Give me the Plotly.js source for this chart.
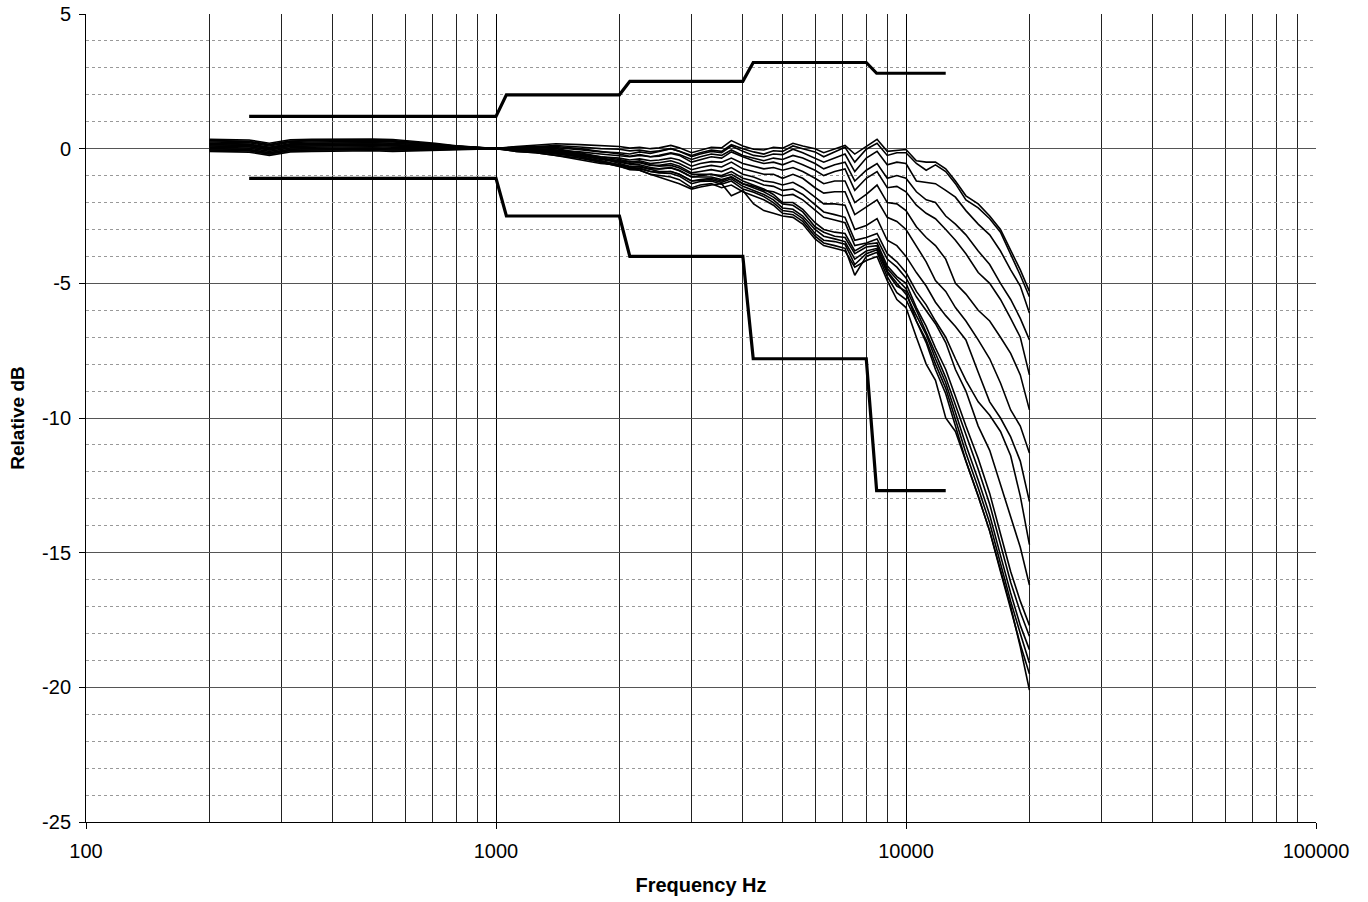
<!DOCTYPE html>
<html>
<head>
<meta charset="utf-8">
<script src="https://cdn.plot.ly/plotly-3.0.1.min.js"></script>
<style>html,body{margin:0;padding:0;background:#fff;}#chart{width:1368px;height:902px;}</style>
</head>
<body>
<div id="chart"></div>
<script>
// Frequency points (Hz)
const freqHz = [200,224,250,280,315,355,400,450,500,560,630,710,800,900,1000,
  1120,1250,1400,1600,1800,
  2000,2120,2240,2380,2500,2670,2800,3000,3150,3350,3550,3750,4000,4250,4500,4750,5000,5300,5600,6000,6300,6700,7100,7500,8000,8500,9000,9500,10000,
  10600,11200,11800,12500,13200,14000,15000,16000,17000,18000,19000,20000];

// Measured responses (relative dB)
const curve01 = [0.30,0.28,0.27,0.15,0.28,0.30,0.31,0.32,0.32,0.30,0.24,0.17,0.09,0.04,0.00,
  0.08,0.12,0.18,0.15,0.10,
  0.08,0.02,0.05,0.00,0.03,0.12,0.03,-0.15,-0.05,0.05,0.03,0.30,0.10,-0.02,-0.05,0.05,0.02,0.20,0.10,0.00,-0.15,0.00,0.12,-0.20,0.08,0.35,-0.10,-0.05,-0.03,
  -0.45,-0.50,-0.50,-0.75,-1.20,-1.75,-2.05,-2.50,-3.00,-3.75,-4.50,-5.30];
const curve02 = [0.10,0.08,0.07,-0.05,0.08,0.10,0.11,0.12,0.12,0.10,0.08,0.06,0.03,0.01,0.00,
  0.05,0.08,0.12,0.06,0.00,
  -0.02,-0.08,-0.05,-0.12,-0.08,0.00,-0.10,-0.25,-0.15,-0.05,-0.10,0.15,0.00,-0.12,-0.20,-0.08,-0.10,0.10,0.00,-0.12,-0.30,-0.12,0.05,-0.50,-0.02,0.20,-0.25,-0.15,-0.15,
  -0.55,-0.80,-0.60,-0.85,-1.30,-1.90,-2.20,-2.60,-3.10,-3.90,-4.70,-5.50];
const curve03 = [0.20,0.18,0.17,0.05,0.18,0.20,0.21,0.22,0.22,0.20,0.16,0.11,0.06,0.02,0.00,
  0.04,0.05,0.04,-0.04,-0.12,
  -0.15,-0.20,-0.12,-0.18,-0.10,0.00,-0.10,-0.30,-0.20,-0.10,-0.15,0.10,-0.10,-0.25,-0.30,-0.20,-0.22,-0.02,-0.15,-0.35,-0.50,-0.35,-0.20,-0.85,-0.35,-0.10,-0.60,-0.50,-0.55,
  -1.20,-1.25,-1.30,-1.55,-1.80,-2.30,-2.80,-3.20,-3.80,-4.50,-5.10,-6.10];
const curve04 = [-0.05,-0.07,-0.08,-0.20,-0.07,-0.05,-0.04,-0.03,-0.03,-0.05,-0.04,-0.03,-0.02,-0.01,0.00,
  0.00,-0.02,-0.06,-0.12,-0.20,
  -0.25,-0.30,-0.25,-0.30,-0.25,-0.15,-0.22,-0.40,-0.30,-0.20,-0.25,-0.05,-0.25,-0.35,-0.45,-0.35,-0.40,-0.25,-0.35,-0.55,-0.75,-0.60,-0.50,-1.20,-0.80,-0.55,-1.10,-1.00,-1.10,
  -1.60,-1.90,-2.00,-2.50,-2.80,-3.20,-3.80,-4.30,-5.00,-5.60,-6.30,-7.10];
const curve05 = [0.35,0.33,0.32,0.20,0.33,0.35,0.36,0.36,0.36,0.34,0.28,0.20,0.11,0.04,0.00,
  0.06,0.08,0.08,0.00,-0.10,
  -0.20,-0.28,-0.22,-0.30,-0.28,-0.18,-0.25,-0.50,-0.40,-0.30,-0.35,-0.12,-0.30,-0.45,-0.55,-0.50,-0.60,-0.45,-0.60,-0.80,-1.00,-0.85,-0.75,-1.55,-1.10,-0.85,-1.45,-1.40,-1.60,
  -2.10,-2.40,-2.60,-3.00,-3.40,-3.90,-4.60,-5.00,-5.60,-6.30,-7.00,-8.40];
const curve06 = [0.15,0.13,0.12,0.00,0.13,0.15,0.16,0.17,0.17,0.15,0.12,0.08,0.05,0.02,0.00,
  -0.02,-0.06,-0.10,-0.20,-0.30,
  -0.35,-0.42,-0.38,-0.45,-0.42,-0.35,-0.42,-0.65,-0.55,-0.48,-0.50,-0.35,-0.55,-0.65,-0.75,-0.70,-0.80,-0.70,-0.85,-1.10,-1.30,-1.20,-1.20,-2.00,-1.70,-1.35,-2.00,-2.05,-2.30,
  -2.90,-3.30,-3.60,-4.10,-5.00,-5.40,-6.00,-6.40,-7.00,-7.60,-8.40,-9.70];
const curve07 = [0.00,-0.02,-0.03,-0.15,-0.02,0.00,0.01,0.02,0.02,0.00,0.00,0.00,0.00,0.00,0.00,
  -0.05,-0.10,-0.15,-0.25,-0.35,
  -0.45,-0.50,-0.45,-0.55,-0.52,-0.45,-0.55,-0.78,-0.70,-0.62,-0.68,-0.50,-0.75,-0.85,-0.95,-0.95,-1.10,-0.95,-1.10,-1.45,-1.65,-1.60,-1.60,-2.45,-2.15,-1.90,-2.55,-2.70,-3.00,
  -3.60,-4.20,-4.90,-5.30,-5.90,-6.40,-7.10,-7.80,-8.70,-9.70,-10.30,-11.30];
const curve08 = [0.25,0.23,0.22,0.10,0.23,0.25,0.26,0.27,0.27,0.25,0.20,0.14,0.08,0.03,0.00,
  0.03,0.00,-0.05,-0.20,-0.35,
  -0.50,-0.55,-0.52,-0.62,-0.62,-0.55,-0.65,-0.90,-0.85,-0.78,-0.85,-0.70,-0.95,-1.05,-1.20,-1.25,-1.35,-1.25,-1.45,-1.80,-2.05,-2.05,-2.10,-3.00,-2.85,-2.60,-3.40,-3.60,-4.00,
  -4.60,-5.10,-5.70,-6.20,-6.60,-7.10,-8.30,-9.40,-10.00,-10.70,-11.60,-13.10];
const curve09 = [0.05,0.03,0.02,-0.10,0.03,0.05,0.06,0.07,0.07,0.05,0.04,0.03,0.02,0.01,0.00,
  -0.05,-0.10,-0.20,-0.30,-0.45,
  -0.60,-0.68,-0.65,-0.75,-0.75,-0.70,-0.80,-1.05,-1.00,-0.95,-1.00,-0.85,-1.10,-1.20,-1.35,-1.40,-1.55,-1.50,-1.70,-2.10,-2.35,-2.45,-2.55,-3.40,-3.30,-3.15,-3.90,-4.20,-4.60,
  -5.30,-5.80,-6.40,-7.00,-7.80,-8.60,-9.40,-9.90,-10.50,-11.40,-12.90,-14.70];
const curve10 = [-0.10,-0.12,-0.13,-0.25,-0.12,-0.10,-0.09,-0.08,-0.08,-0.10,-0.08,-0.06,-0.04,-0.02,0.00,
  -0.10,-0.15,-0.25,-0.35,-0.50,
  -0.65,-0.75,-0.75,-0.85,-0.88,-0.85,-0.95,-1.20,-1.15,-1.10,-1.20,-1.05,-1.30,-1.40,-1.55,-1.60,-1.75,-1.70,-1.90,-2.30,-2.55,-2.65,-2.75,-3.60,-3.50,-3.35,-4.10,-4.40,-4.80,
  -5.50,-6.00,-6.50,-7.20,-8.20,-9.00,-10.30,-11.20,-12.50,-13.70,-14.80,-16.20];
const curve11 = [0.30,0.28,0.26,0.14,0.27,0.30,0.31,0.30,0.30,0.28,0.22,0.15,0.08,0.03,0.00,
  0.06,0.05,0.00,-0.15,-0.30,
  -0.40,-0.48,-0.50,-0.60,-0.65,-0.62,-0.72,-0.95,-0.95,-0.95,-1.05,-0.95,-1.20,-1.35,-1.50,-1.70,-2.00,-2.00,-2.25,-2.75,-3.00,-3.10,-3.15,-3.80,-3.55,-3.50,-4.35,-4.75,-5.00,
  -5.90,-6.60,-7.40,-8.20,-9.20,-10.30,-11.50,-12.80,-14.30,-15.70,-16.80,-17.70];
const curve12 = [0.10,0.08,0.07,-0.05,0.08,0.10,0.11,0.12,0.12,0.10,0.08,0.06,0.03,0.01,0.00,
  0.00,-0.05,-0.12,-0.25,-0.40,
  -0.50,-0.58,-0.60,-0.70,-0.75,-0.72,-0.82,-1.05,-1.05,-1.05,-1.15,-1.05,-1.30,-1.45,-1.60,-1.80,-2.05,-2.10,-2.35,-2.90,-3.10,-3.25,-3.30,-3.90,-3.65,-3.60,-4.45,-4.85,-5.20,
  -6.00,-6.80,-7.60,-8.50,-9.50,-10.60,-11.90,-13.20,-14.70,-16.10,-17.20,-18.10];
const curve13 = [0.20,0.18,0.16,0.04,0.17,0.20,0.21,0.22,0.22,0.20,0.16,0.11,0.06,0.02,0.00,
  0.03,0.00,-0.05,-0.20,-0.35,
  -0.55,-0.65,-0.68,-0.78,-0.85,-0.85,-0.95,-1.20,-1.18,-1.15,-1.25,-1.12,-1.40,-1.55,-1.70,-1.90,-2.20,-2.25,-2.50,-3.00,-3.25,-3.35,-3.45,-4.10,-3.80,-3.70,-4.55,-5.00,-5.40,
  -6.20,-6.90,-7.80,-8.70,-9.80,-11.00,-12.30,-13.60,-15.10,-16.50,-17.70,-18.60];
const curve14 = [-0.05,-0.07,-0.08,-0.20,-0.07,-0.05,-0.04,-0.04,-0.04,-0.05,-0.04,-0.03,-0.02,-0.01,0.00,
  -0.05,-0.10,-0.18,-0.30,-0.45,
  -0.60,-0.70,-0.72,-0.85,-0.90,-0.92,-1.02,-1.30,-1.22,-1.20,-1.32,-1.20,-1.50,-1.62,-1.78,-2.00,-2.30,-2.35,-2.60,-3.15,-3.40,-3.45,-3.55,-4.30,-3.90,-3.75,-4.60,-5.10,-5.30,
  -6.40,-7.10,-8.00,-8.90,-10.10,-11.30,-12.60,-13.90,-15.40,-16.80,-18.00,-19.10];
const curve15 = [0.15,0.13,0.12,0.00,0.13,0.15,0.16,0.16,0.16,0.14,0.12,0.08,0.05,0.02,0.00,
  0.00,-0.05,-0.15,-0.30,-0.50,
  -0.65,-0.78,-0.80,-0.95,-1.00,-1.05,-1.15,-1.45,-1.35,-1.30,-1.45,-1.35,-1.60,-1.75,-1.90,-2.10,-2.40,-2.45,-2.70,-3.25,-3.50,-3.60,-3.70,-4.70,-4.00,-3.85,-4.75,-5.35,-5.60,
  -6.40,-7.20,-8.20,-9.10,-10.30,-11.60,-12.90,-14.20,-15.70,-17.10,-18.40,-19.50];
const curve16 = [0.00,-0.02,-0.03,-0.15,-0.02,0.00,0.01,0.02,0.02,0.00,0.00,0.00,0.00,0.00,0.00,
  -0.10,-0.15,-0.25,-0.40,-0.55,
  -0.60,-0.70,-0.80,-0.95,-1.05,-1.20,-1.30,-1.50,-1.42,-1.35,-1.30,-1.75,-1.55,-2.05,-2.30,-2.40,-2.50,-2.55,-2.80,-3.35,-3.60,-3.70,-3.80,-4.40,-4.15,-4.00,-4.90,-5.60,-5.90,
  -7.00,-8.00,-8.60,-10.00,-10.50,-11.60,-12.90,-14.20,-15.60,-17.00,-18.50,-20.10];

const curves = [curve01,curve02,curve03,curve04,curve05,curve06,curve07,curve08,
                curve09,curve10,curve11,curve12,curve13,curve14,curve15,curve16];

// Tolerance limits
const limitFreqHz = [250,1000,1060,2000,2120,4000,4240,8000,8480,12500];
const upperLimitDb = [1.2,1.2,2.0,2.0,2.5,2.5,3.2,3.2,2.8,2.8];
const lowerLimitDb = [-1.1,-1.1,-2.5,-2.5,-4.0,-4.0,-7.8,-7.8,-12.7,-12.7];

const xTickVals = [100,1000,10000,100000];
const xTickText = ['100','1000','10000','100000'];
const yTickVals = [-25,-20,-15,-10,-5,0,5];
const yTickText = ['-25','-20','-15','-10','-5','0','5'];

const traces = curves.map(c => ({
  x: freqHz, y: c, type: 'scatter', mode: 'lines',
  line: {color: '#000', width: 1.6}, hoverinfo: 'skip'
}));
traces.push({x: limitFreqHz, y: upperLimitDb, type: 'scatter', mode: 'lines', line: {color: '#000', width: 3.2}});
traces.push({x: limitFreqHz, y: lowerLimitDb, type: 'scatter', mode: 'lines', line: {color: '#000', width: 3.2}});

const fontFam = '"Liberation Sans", Arial, sans-serif';
const layout = {
  width: 1368, height: 902,
  margin: {l: 86, r: 52, t: 14, b: 80},
  paper_bgcolor: '#fff', plot_bgcolor: '#fff',
  showlegend: false,
  font: {family: fontFam, size: 20, color: '#000'},
  xaxis: {
    type: 'log', range: [2, 5],
    tickmode: 'array', tickvals: xTickVals, ticktext: xTickText,
    ticks: 'outside', ticklen: 6, tickcolor: '#000',
    showline: true, linecolor: '#000', linewidth: 1,
    showgrid: true, gridcolor: '#000', gridwidth: 1,
    minor: {dtick: 'D1', showgrid: true, gridcolor: '#222', gridwidth: 1, ticks: ''},
    zeroline: false,
    ticklabelstandoff: 5,
    tickfont: {family: fontFam, size: 20},
    title: {text: 'Frequency Hz', font: {family: fontFam, size: 20, weight: 'bold'}, standoff: 16}
  },
  yaxis: {
    range: [-25, 5],
    tickmode: 'array', tickvals: yTickVals, ticktext: yTickText,
    ticks: 'outside', ticklen: 6, tickcolor: '#000',
    showline: true, linecolor: '#000', linewidth: 1,
    showgrid: true, gridcolor: '#555', gridwidth: 1,
    minor: {tickmode: 'linear', tick0: 0, dtick: 1, showgrid: true, gridcolor: '#999', griddash: 'dot', gridwidth: 1, ticks: ''},
    zeroline: false,
    ticklabelstandoff: 4,
    tickfont: {family: fontFam, size: 20},
    title: {text: 'Relative dB', font: {family: fontFam, size: 19, weight: 'bold'}, standoff: 12}
  }
};

Plotly.newPlot('chart', traces, layout, {staticPlot: true, displayModeBar: false});
</script>
</body>
</html>
